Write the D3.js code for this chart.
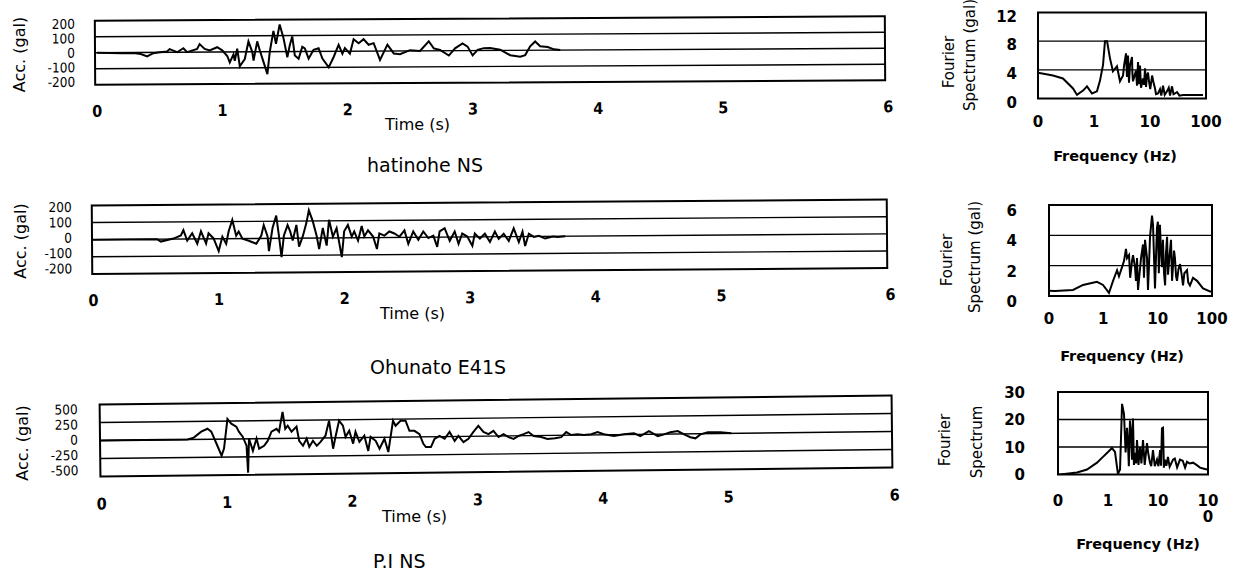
<!DOCTYPE html>
<html>
<head>
<meta charset="utf-8">
<script src="https://cdn.jsdelivr.net/npm/d3@7"></script>
<style>
  body { margin: 0; background: #fff; }
  svg { display: block; }
</style>
</head>
<body>
<svg id="chart" width="1236" height="585"></svg>
<script>
// ---- data: acceleration records (time s, acc gal) ----
const hatT = [0,0.2,0.29,0.35,0.4,0.45,0.5,0.56,0.58,0.64,0.69,0.72,0.8,0.82,0.86,0.9,0.96,1.0,1.04,1.06,1.09,1.10,1.12,1.14,1.18,1.21,1.24,1.25,1.28,1.30,1.33,1.36,1.38,1.41,1.43,1.46,1.49,1.52,1.54,1.56,1.58,1.61,1.64,1.66,1.69,1.73,1.77,1.80,1.85,1.89,1.93,1.96,1.98,2.02,2.05,2.09,2.13,2.17,2.21,2.26,2.32,2.37,2.42,2.50,2.58,2.65,2.69,2.74,2.81,2.86,2.92,2.96,3.00,3.04,3.09,3.14,3.22,3.30,3.38,3.42,3.46,3.50,3.54,3.60,3.65,3.70];
const hatA = [0,-5,-3,-10,-25,-5,0,5,20,0,25,0,20,50,20,10,30,10,-25,-65,-15,-55,20,-90,-45,65,0,-55,65,10,-65,-140,0,130,50,170,85,-35,40,95,-25,-45,30,20,-45,10,20,-45,-100,-35,40,-15,20,-15,75,50,75,40,50,-55,40,-15,-20,5,0,60,15,5,-30,15,45,25,-30,5,15,15,5,-30,-40,-30,25,55,25,20,5,0];

const ohuT = [0,0.51,0.54,0.64,0.70,0.72,0.75,0.79,0.83,0.86,0.90,0.92,0.96,1.00,1.03,1.06,1.08,1.11,1.14,1.16,1.19,1.24,1.30,1.34,1.36,1.39,1.40,1.43,1.46,1.48,1.50,1.52,1.55,1.57,1.59,1.62,1.64,1.67,1.70,1.72,1.75,1.78,1.80,1.83,1.86,1.88,1.91,1.94,1.98,2.00,2.03,2.06,2.08,2.11,2.14,2.16,2.19,2.23,2.26,2.28,2.32,2.36,2.40,2.44,2.48,2.51,2.55,2.59,2.63,2.67,2.71,2.74,2.76,2.80,2.84,2.88,2.91,2.94,2.98,3.02,3.04,3.08,3.12,3.16,3.20,3.23,3.27,3.31,3.35,3.39,3.42,3.44,3.47,3.51,3.55,3.60,3.66,3.70,3.76];
const ohuA = [0,0,-14,3,21,52,-9,33,-28,44,-28,32,2,-72,12,-30,42,109,17,41,-1,-13,-31,17,78,11,-74,60,133,17,-110,16,77,40,-14,77,-50,10,89,162,100,15,-64,58,-45,106,8,57,-113,38,75,7,37,-17,68,7,43,6,-67,24,11,35,23,4,41,-38,34,-15,34,-5,9,-57,33,52,-22,32,-40,20,2,-53,19,-11,18,-30,30,-13,17,-25,48,-32,28,-56,16,-3,3,-13,-2,-5,0];

const piT = [0,0.69,0.74,0.80,0.85,0.88,0.92,0.96,0.98,1.01,1.04,1.08,1.10,1.13,1.16,1.17,1.18,1.21,1.24,1.26,1.30,1.33,1.36,1.40,1.42,1.45,1.47,1.49,1.52,1.56,1.58,1.61,1.64,1.66,1.69,1.72,1.75,1.79,1.82,1.85,1.87,1.90,1.93,1.95,1.98,2.01,2.03,2.06,2.10,2.13,2.15,2.19,2.22,2.26,2.29,2.33,2.35,2.39,2.43,2.46,2.50,2.54,2.57,2.59,2.63,2.66,2.70,2.74,2.78,2.82,2.85,2.89,2.93,2.97,3.01,3.05,3.09,3.13,3.17,3.21,3.25,3.29,3.33,3.37,3.41,3.45,3.51,3.56,3.62,3.67,3.71,3.75,3.80,3.85,3.91,3.96,4.01,4.09,4.17,4.25,4.30,4.37,4.44,4.49,4.54,4.60,4.65,4.70,4.74,4.78,4.84,4.94,5.02];
const piA = [0,0,25,107,146,106,-60,-231,-132,278,212,171,101,30,-95,-470,4,-167,3,-138,-99,-29,95,134,94,368,133,177,92,161,-35,-105,-6,-122,-37,-108,-53,31,240,-151,14,238,168,12,96,-84,80,-60,24,-187,8,-48,-159,-20,-205,229,158,227,227,86,85,39,-97,-142,-143,-29,11,-30,64,-62,7,-79,-34,60,144,58,27,71,-15,24,-17,-42,-3,21,50,-6,-22,-48,-40,-26,43,2,11,0,9,38,7,-20,3,17,-25,44,-28,-4,25,39,-7,-48,-64,-10,19,16,0];

// ---- data: Fourier spectra (frequency Hz, amplitude gal) ----
const hatF = [0.1,0.185,0.279,0.422,0.497,0.637,0.75,0.921,1.13,1.28,1.45,1.57,1.71,1.93,2.18,2.57,2.91,3.30,3.43,3.73,3.88,4.05,4.22,4.39,4.77,4.85,4.97,5.62,5.86,6.11,6.36,6.63,6.91,7.50,7.82,8.15,8.49,8.84,9.21,9.60,10.1,10.9,11.5,12.3,12.8,13.9,15.1,15.9,17.1,18.3,20.1,21.6,22.8,24.7,26.3,27.9,30.4,33.5,38.8,88.4];
const hatS = [3.6,3.2,2.8,1.4,0.5,1.1,1.7,0.7,1.0,2.5,4.7,8.0,8.0,5.6,3.8,4.5,2.4,3.2,4.5,6.3,3.0,6.0,2.2,4.6,5.8,3.5,2.4,3.9,1.8,5.1,2.0,4.6,1.5,2.8,1.9,4.2,1.6,3.2,3.6,2.4,1.3,3.2,2.3,1.4,0.6,0.7,1.3,0.4,1.8,0.5,1.0,1.5,0.4,1.7,0.6,0.7,0.9,0.4,0.5,0.5];

const ohuF = [0.1,0.129,0.277,0.423,0.764,0.986,1.27,1.51,1.79,1.94,2.21,2.40,2.61,2.73,2.97,3.12,3.37,3.52,3.83,3.99,4.17,4.35,4.65,4.94,5.37,5.60,5.85,6.37,6.64,6.92,7.23,7.87,8.21,8.93,9.24,9.72,10.1,10.5,11.0,11.5,12.0,12.5,13.1,13.7,14.2,14.9,15.5,16.5,17.6,18.4,19.1,20.0,20.8,21.8,22.7,24.2,25.8,27.7,29.3,31.0,34.7,36.5,39.3,44.7,53.0,68.3,91.9,100];
const ohuS = [0.35,0.33,0.4,0.73,0.93,0.73,0.2,1.0,1.7,1.3,1.9,2.3,3.1,2.5,2.7,1.2,2.3,2.7,1.9,1.0,2.5,0.4,1.5,2.5,3.4,1.2,3.7,2.5,0.4,2.0,3.9,5.3,4.7,0.5,2.2,4.5,4.9,1.5,4.7,3.0,1.9,3.7,1.5,0.7,2.8,3.9,1.4,2.6,3.7,1.0,1.9,3.0,2.5,1.3,1.0,1.8,2.1,1.4,0.7,1.5,1.7,0.9,0.7,1.2,1.0,0.5,0.3,0.3];

const piF = [0.1,0.11,0.24,0.38,0.603,0.794,1.0,1.20,1.38,1.58,1.74,1.91,2.09,2.25,2.40,2.51,2.61,2.75,2.90,3.02,3.16,3.30,3.47,3.66,3.80,4.07,4.37,4.66,5.01,5.42,6.03,6.34,6.92,7.31,7.94,8.63,9.55,10.2,11.0,11.5,12.0,12.6,13.1,13.8,14.7,15.8,17.1,20.0,21.7,24.1,27.5,31.2,34.8,38.0,43.1,50.1,58.9,69.2,79.4,95.5,100];
const piS = [0,0,0.7,1.8,4.3,6.4,8.2,9.6,8.2,0.2,1.8,25.7,22,8,17,11.4,3,19.6,15,5.4,20.4,3.5,7.9,4,12.5,3.5,10,4,12.5,3.5,11.4,8,4.3,3,8.9,3,5.4,3,8.9,3.2,16.8,17,2.5,5.4,3.2,6.4,2.8,5.4,5.8,2.6,5.4,5,2.5,4.6,4,4.3,3.5,2.5,2.2,1.8,1.8];

// ---- axis ticks / labels ----
const timeTicks = [0, 1, 2, 3, 4, 5, 6];
const accTicks200 = [200, 100, 0, -100, -200];
const accTicks500 = [500, 250, 0, -250, -500];
const freqTicks = [0.1, 1, 10, 100];
const freqLabels = ["0", "1", "10", "100"];

// ---- layout per row ----
const rows = [
  { title: "hatinohe NS", t: hatT, a: hatA, yMax: 200, yTicks: accTicks200, grid: [100, 0, -100],
    box: [95, 885, 18.5, 82.5], xr: [97, 723, 888], rot: -0.32, tickBase: 114.5, nudge: [3, 0],
    labelRight: 75, accX: 19, accY: 54.5, timeX: 385, timeY: 130, titleX: 367, titleY: 172,
    spec: { f: hatF, s: hatS, yMax: 12, yTicks: [12, 8, 4, 0], grid: [4, 8], box: [1038, 1206, 12.5, 98.5],
            labelRight: 1017, labOff: 4, tickBase: 127, freqX: 1115, freqBase: 161,
            fourier: [949, 62], specLab: [970, 55, "Spectrum (gal)"], labels: freqLabels } },
  { title: "Ohunato E41S", t: ohuT, a: ohuA, yMax: 200, yTicks: accTicks200, grid: [100, 0, -100],
    box: [92, 887, 202.5, 271], xr: [93, 721, 890], rot: -0.42, tickBase: 303, nudge: [3.5, -2.2],
    labelRight: 72, accX: 20, accY: 241, timeX: 380, timeY: 319, titleX: 370, titleY: 374,
    spec: { f: ohuF, s: ohuS, yMax: 6, yTicks: [6, 4, 2, 0], grid: [2, 4], box: [1049, 1212, 205, 296],
            labelRight: 1017, labOff: 6, tickBase: 324, freqX: 1122, freqBase: 361,
            fourier: [947, 260], specLab: [975, 257, "Spectrum (gal)"], labels: freqLabels } },
  { title: "P.I NS", t: piT, a: piA, yMax: 500, yTicks: accTicks500, grid: [250, 0, -250],
    box: [100, 892, 400, 472], xr: [101, 728, 894], rot: -0.65, tickBase: 505, nudge: [5.5, -1],
    labelRight: 78, accX: 22, accY: 443, timeX: 382, timeY: 522, titleX: 373, titleY: 568,
    spec: { f: piF, s: piS, yMax: 30, yTicks: [30, 20, 10, 0], grid: [10, 20], box: [1058, 1208, 392, 474.5],
            labelRight: 1025, labOff: 0.5, tickBase: 506, freqX: 1138, freqBase: 549,
            fourier: [945, 440], specLab: [977, 442, "Spectrum"], labels: ["0", "1", "10", "10"],
            wrap: "0" } }
];

const svg = d3.select("#chart");
const sans = "'DejaVu Sans', sans-serif";
const cond = "'DejaVu Sans Condensed', 'DejaVu Sans', sans-serif";

rows.forEach((r, i) => {
  const [x0, x1, y0, y1] = r.box;
  const cx = (x0 + x1) / 2, cy = (y0 + y1) / 2;

  // 1) time history panel
  const x = d3.scaleLinear().domain([0, 5, 6]).range(r.xr);
  const y = d3.scaleLinear().domain([-r.yMax, r.yMax]).range([y1, y0]);

  const g = svg.append("g").attr("transform", `rotate(${r.rot},${cx},${cy})`);

  g.selectAll("line.grid")
    .data(r.grid)
    .join("line")
      .attr("x1", x0).attr("x2", x1)
      .attr("y1", d => y(d)).attr("y2", d => y(d))
      .attr("stroke", "#000").attr("stroke-width", 1.4);

  g.append("path")
    .datum(d3.zip(r.t, r.a))
    .attr("fill", "none")
    .attr("stroke", "#000")
    .attr("stroke-width", 2)
    .attr("stroke-linejoin", "miter")
    .attr("d", d3.line().x(d => x(d[0])).y(d => y(d[1])));

  g.append("rect")
    .attr("x", x0).attr("y", y0)
    .attr("width", x1 - x0).attr("height", y1 - y0)
    .attr("fill", "none").attr("stroke", "#000").attr("stroke-width", 2);

  // tightly stacked tick labels, as in the original
  g.selectAll("text.ytick")
    .data(r.yTicks)
    .join("text")
      .attr("x", r.labelRight)
      .attr("y", d => y(d) + (d / r.yMax) * r.nudge[0] + r.nudge[1])
      .attr("text-anchor", "end")
      .attr("dominant-baseline", "central")
      .style("font-family", cond).style("font-size", "13.5px")
      .text(d => d);

  g.selectAll("text.xtick")
    .data(timeTicks)
    .join("text")
      .attr("x", d => x(d))
      .attr("y", r.tickBase)
      .attr("text-anchor", "middle")
      .style("font-family", cond).style("font-size", "16px").style("font-weight", "bold")
      .text(d => d);

  svg.append("text")
    .attr("transform", `translate(${r.accX},${r.accY}) rotate(-90)`)
    .attr("text-anchor", "middle")
    .attr("dominant-baseline", "central")
    .style("font-family", sans).style("font-size", "16px")
    .text("Acc. (gal)");

  svg.append("text")
    .attr("x", r.timeX).attr("y", r.timeY)
    .style("font-family", sans).style("font-size", "16px")
    .text("Time (s)");

  svg.append("text")
    .attr("x", r.titleX).attr("y", r.titleY)
    .style("font-family", sans).style("font-size", "19px")
    .text(r.title);

  // 2) Fourier spectrum panel
  const s = r.spec;
  const [L, R, T, B] = s.box;
  const fx = d3.scaleLog().domain([0.1, 100]).range([L, R]);
  const fy = d3.scaleLinear().domain([0, s.yMax]).range([B, T]);

  const clipId = "clip" + i;
  svg.append("clipPath").attr("id", clipId)
    .append("rect").attr("x", L).attr("y", T).attr("width", R - L).attr("height", B - T);

  svg.selectAll(null)
    .data(s.grid)
    .join("line")
      .attr("x1", L).attr("x2", R)
      .attr("y1", d => fy(d)).attr("y2", d => fy(d))
      .attr("stroke", "#000").attr("stroke-width", 1.3);

  svg.append("path")
    .datum(d3.zip(s.f, s.s))
    .attr("clip-path", `url(#${clipId})`)
    .attr("fill", "none")
    .attr("stroke", "#000")
    .attr("stroke-width", 2)
    .attr("d", d3.line().x(d => fx(d[0])).y(d => fy(d[1])));

  svg.append("rect")
    .attr("x", L).attr("y", T)
    .attr("width", R - L).attr("height", B - T)
    .attr("fill", "none").attr("stroke", "#000").attr("stroke-width", 2);

  svg.selectAll(null)
    .data(s.yTicks)
    .join("text")
      .attr("x", s.labelRight)
      .attr("y", d => fy(d) + s.labOff)
      .attr("text-anchor", "end")
      .attr("dominant-baseline", "central")
      .style("font-family", sans).style("font-size", "15px").style("font-weight", "bold")
      .text(d => d);

  svg.selectAll(null)
    .data(freqTicks)
    .join("text")
      .attr("x", d => fx(d))
      .attr("y", s.tickBase)
      .attr("text-anchor", "middle")
      .style("font-family", sans).style("font-size", "15px").style("font-weight", "bold")
      .text((d, k) => s.labels[k]);

  // the last label of the P.I spectrum wraps onto a second line
  if (s.wrap) {
    svg.append("text")
      .attr("x", fx(100)).attr("y", s.tickBase + 16)
      .attr("text-anchor", "middle")
      .style("font-family", sans).style("font-size", "15px").style("font-weight", "bold")
      .text(s.wrap);
  }

  svg.append("text")
    .attr("x", s.freqX).attr("y", s.freqBase)
    .attr("text-anchor", "middle")
    .style("font-family", sans).style("font-size", "14.5px").style("font-weight", "bold")
    .text("Frequency (Hz)");

  svg.append("text")
    .attr("transform", `translate(${s.fourier[0]},${s.fourier[1]}) rotate(-90)`)
    .attr("text-anchor", "middle")
    .attr("dominant-baseline", "central")
    .style("font-family", sans).style("font-size", "15px")
    .text("Fourier");

  svg.append("text")
    .attr("transform", `translate(${s.specLab[0]},${s.specLab[1]}) rotate(-90)`)
    .attr("text-anchor", "middle")
    .attr("dominant-baseline", "central")
    .style("font-family", sans).style("font-size", "15px")
    .text(s.specLab[2]);
});
</script>
</body>
</html>
